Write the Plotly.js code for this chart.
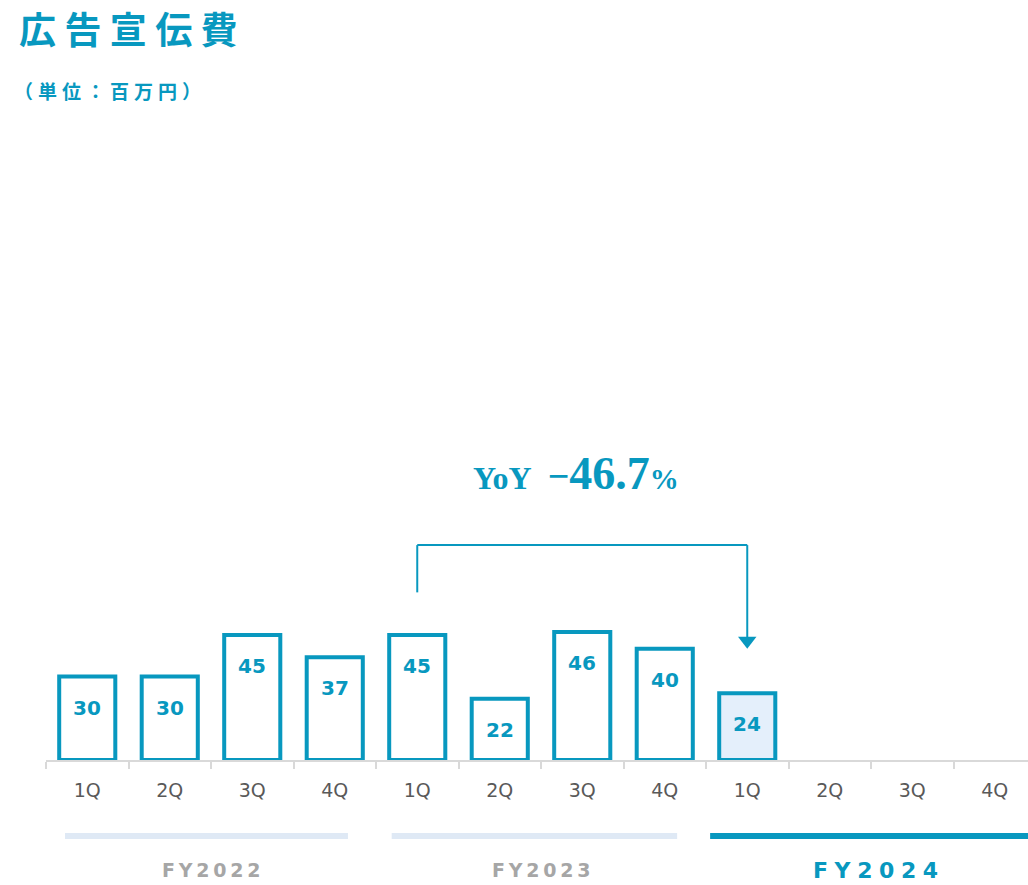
<!DOCTYPE html>
<html>
<head>
<meta charset="utf-8">
<script src="https://cdn.plot.ly/plotly-3.0.1.min.js"></script>
<style>html,body{margin:0;padding:0;background:#fff;}#chart{width:1028px;height:885px;}</style>
</head>
<body>
<div id="chart"></div>
<script>
// ---- data ----
const chartTitle = "広告宣伝費";
const unitLabel = "（単位：百万円）";
const fiscalYears = ["FY2022", "FY2023", "FY2024"];
const quarterLabels = ["1Q", "2Q", "3Q", "4Q"];
const adSpend = [30, 30, 45, 37, 45, 22, 46, 40, 24, null, null, null];
const yoyText = "−46.7";
const yoyFromIndex = 4;
const yoyToIndex = 8;

// ---- derived ----
const categories = [];
const tickText = [];
fiscalYears.forEach(fy => quarterLabels.forEach(q => { categories.push(fy + " " + q); tickText.push(q); }));

const TEAL = "#0898bf";
const LIGHT = "#e4effb";
const lastIdx = adSpend.reduce((a, v, i) => (v != null ? i : a), -1);
const fillColors = adSpend.map((v, i) => (i === lastIdx ? LIGHT : "#ffffff"));
const spaced = (s, sep) => s.split("").join(sep);

const barTrace = {
  type: "bar",
  x: categories,
  y: adSpend,
  width: 0.68,
  marker: { color: fillColors, line: { color: TEAL, width: 4 } },
  hoverinfo: "none",
  showlegend: false
};

const bracketLift = 15.3;
const fromY = adSpend[yoyFromIndex] + bracketLift;
const topY = 77.3;
const headY = adSpend[yoyToIndex] + bracketLift + 3.6;

const arrowHead = {
  type: "scatter",
  mode: "markers",
  x: [categories[yoyToIndex]],
  y: [headY],
  marker: { symbol: "triangle-down", size: 16, color: TEAL },
  hoverinfo: "none",
  showlegend: false,
  cliponaxis: false
};

const shapes = [
  { type: "line", xref: "x", yref: "y", x0: yoyFromIndex, x1: yoyFromIndex, y0: fromY, y1: topY, line: { color: TEAL, width: 2 } },
  { type: "line", xref: "x", yref: "y", x0: yoyFromIndex, x1: yoyToIndex, y0: topY, y1: topY, line: { color: TEAL, width: 2 } },
  { type: "line", xref: "x", yref: "y", x0: yoyToIndex, x1: yoyToIndex, y0: topY, y1: headY + 1, line: { color: TEAL, width: 2 } }
];

const bandSpans = [[-0.27, 3.16], [3.69, 7.15], [7.55, 11.45]];
const bandColors = ["#dfe9f5", "#dfe9f5", TEAL];
bandSpans.forEach((s, i) => shapes.push({
  type: "line", xref: "x", yref: "paper", x0: s[0], x1: s[1], y0: -0.273, y1: -0.273,
  line: { color: bandColors[i], width: 6 }
}));

const annotations = [];
adSpend.forEach((v, i) => {
  if (v == null) return;
  annotations.push({
    x: categories[i], y: v, xref: "x", yref: "y", yshift: -31, showarrow: false,
    text: String(v), font: { family: "DejaVu Sans", size: 20, color: TEAL, weight: "bold" }
  });
});

const fyCenters = [1.5, 5.5, 9.55];
fiscalYears.forEach((fy, i) => {
  const current = i === fiscalYears.length - 1;
  annotations.push({
    x: fyCenters[i], y: -0.397, xref: "x", yref: "paper", showarrow: false,
    xanchor: "center", yanchor: "middle",
    text: spaced(fy, current ? "\u2009\u200A" : "\u2009"),
    font: { family: "DejaVu Sans", size: current ? 22 : 19, color: current ? TEAL : "#a6a6a6", weight: "bold" }
  });
});

annotations.push({
  x: (yoyFromIndex + yoyToIndex) / 2 - 0.07, y: 1.03, xref: "x", yref: "paper", showarrow: false,
  xanchor: "center", yanchor: "middle",
  text: "YoY\u2002<span style='font-size:38px'>" + yoyText.charAt(0) + "</span><span style='font-size:46px'>" + yoyText.slice(1) + "</span><span style='font-size:29px'>%</span>",
  font: { family: "Liberation Serif", size: 32, color: TEAL, weight: "bold" }
});

annotations.push({
  x: -0.035, y: 2.41, xref: "paper", yref: "paper", showarrow: false, xanchor: "left", yanchor: "middle",
  text: spaced(unitLabel, "\u2009\u200A"),
  font: { family: "Noto Sans CJK JP", size: 19, color: TEAL, weight: "bold" }
});

const layout = {
  width: 1028, height: 885,
  margin: { l: 46, r: 0, t: 482, b: 125 },
  paper_bgcolor: "#ffffff", plot_bgcolor: "#ffffff",
  title: {
    text: spaced(chartTitle, " "),
    x: 19 / 1028, xref: "container", xanchor: "left",
    y: 1 - 31 / 885, yref: "container", yanchor: "middle",
    font: { family: "Noto Sans CJK JP", size: 37, color: TEAL, weight: "bold" }
  },
  xaxis: {
    type: "category", categoryorder: "array", categoryarray: categories,
    range: [-0.5, 11.403], fixedrange: true,
    tickmode: "array", tickvals: categories, ticktext: tickText,
    tickson: "boundaries", ticks: "outside", ticklen: 7, tickwidth: 2, tickcolor: "#d9d9d9",
    showline: true, linecolor: "#d9d9d9", linewidth: 2,
    showgrid: false, zeroline: false,
    tickfont: { family: "DejaVu Sans", size: 19, color: "#595959" },
    ticklabelstandoff: 12
  },
  yaxis: {
    range: [0, 100], fixedrange: true, visible: false, showgrid: false, zeroline: false
  },
  shapes: shapes,
  annotations: annotations,
  bargap: 0.3
};

Plotly.newPlot("chart", [barTrace, arrowHead], layout, { staticPlot: true, displayModeBar: false });
</script>
</body>
</html>
